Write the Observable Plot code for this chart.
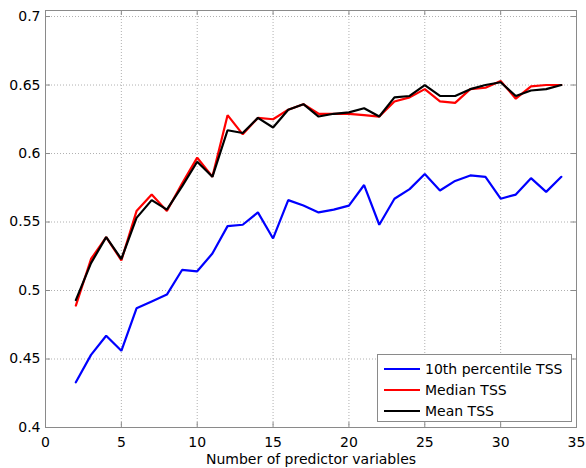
<!DOCTYPE html>
<html>
<head>
<meta charset="utf-8">
<script src="https://cdn.jsdelivr.net/npm/d3@7"></script>
<script src="https://cdn.jsdelivr.net/npm/@observablehq/plot@0.6"></script>
<style>
  html, body { margin: 0; padding: 0; background: #fff; }
  #wrap { position: relative; width: 586px; height: 468px; font-family: "DejaVu Sans", sans-serif; }
  #legend { position: absolute; left: 377px; top: 354px; width: 193px; height: 66px;
            border: 1px solid #8a8a8a; background: #fff; font-size: 14px; color: #000; }
  .row { position: absolute; left: 0; height: 20px; display: flex; align-items: center; }
  .row svg { margin-left: 6px; margin-right: 5px; }
</style>
</head>
<body>
<div id="wrap"><div id="legend"></div></div>
<script>
const nVars = [2,3,4,5,6,7,8,9,10,11,12,13,14,15,16,17,18,19,20,21,22,23,24,25,26,27,28,29,30,31,32,33,34];
const tss10 = [0.433,0.453,0.467,0.456,0.487,0.492,0.497,0.515,0.514,0.527,0.547,0.548,0.557,0.538,0.566,0.562,0.557,0.559,0.562,0.577,0.548,0.567,0.574,0.585,0.573,0.580,0.584,0.583,0.567,0.570,0.582,0.572,0.583];
const tssMedian = [0.489,0.523,0.539,0.522,0.558,0.570,0.558,0.578,0.597,0.583,0.628,0.614,0.626,0.625,0.632,0.636,0.629,0.629,0.629,0.628,0.627,0.638,0.641,0.647,0.638,0.637,0.647,0.648,0.653,0.640,0.649,0.650,0.650];
const tssMean = [0.493,0.520,0.539,0.523,0.553,0.566,0.559,0.576,0.594,0.583,0.617,0.615,0.626,0.619,0.632,0.636,0.627,0.629,0.630,0.633,0.627,0.641,0.642,0.650,0.642,0.642,0.647,0.650,0.652,0.642,0.646,0.647,0.650];
const seriesNames = ["10th percentile TSS", "Median TSS", "Mean TSS"];
const seriesColors = ["#0000ff", "#ff0000", "#000000"];
const xTicks = [0,5,10,15,20,25,30,35];
const yTicks = [0.4,0.45,0.5,0.55,0.6,0.65,0.7];
const xLabel = "Number of predictor variables";

const W = 586, H = 468, mL = 45, mR = 10, mT = 10, mB = 41;
const innerW = W - mL - mR, innerH = H - mT - mB;
const axisColor = "#8a8a8a";
const gridColor = "#b0b0b0";

const allSeries = [tss10, tssMedian, tssMean];
const data = allSeries.flatMap((vals, s) => vals.map((v, i) => ({x: nVars[i], y: v, s})));

const chart = Plot.plot({
  width: W, height: H,
  marginLeft: mL, marginRight: mR, marginTop: mT, marginBottom: mB,
  style: {fontFamily: "DejaVu Sans, sans-serif", fontSize: "14px", color: "#000", background: "#fff"},
  x: {domain: [0, 35]},
  y: {domain: [0.4, 0.7044]},
  marks: [
    Plot.gridX(xTicks, {stroke: gridColor, strokeOpacity: 1, strokeDasharray: "1,2"}),
    Plot.gridY(yTicks, {stroke: gridColor, strokeOpacity: 1, strokeDasharray: "1,2"}),
    Plot.tickX(xTicks, {x: d => d, insetTop: innerH - 5, stroke: axisColor}),
    Plot.tickX(xTicks, {x: d => d, insetBottom: innerH - 5, stroke: axisColor}),
    Plot.tickY(yTicks, {y: d => d, insetRight: innerW - 5, stroke: axisColor}),
    Plot.tickY(yTicks, {y: d => d, insetLeft: innerW - 5, stroke: axisColor}),
    Plot.frame({stroke: axisColor}),
    Plot.axisX(xTicks, {tickSize: 0, tickPadding: 10, label: xLabel, labelAnchor: "center", labelArrow: "none", labelOffset: 36}),
    Plot.axisY(yTicks, {tickSize: 0, tickPadding: 5, tickFormat: d => String(d), label: null}),
    ...[0, 1, 2].map(s => Plot.line(data.filter(d => d.s === s), {x: "x", y: "y", stroke: seriesColors[s], strokeWidth: 2.2, strokeLinejoin: "miter"}))
  ]
});
document.getElementById("wrap").prepend(chart);

const legend = document.getElementById("legend");
seriesNames.forEach((name, i) => {
  const row = document.createElement("div");
  row.className = "row";
  row.style.top = (4 + i * 21) + "px";
  row.innerHTML = `<svg width="36" height="4"><line x1="0" x2="36" y1="2" y2="2" stroke="${seriesColors[i]}" stroke-width="2.2"/></svg><span>${name}</span>`;
  legend.appendChild(row);
});
</script>
</body>
</html>
